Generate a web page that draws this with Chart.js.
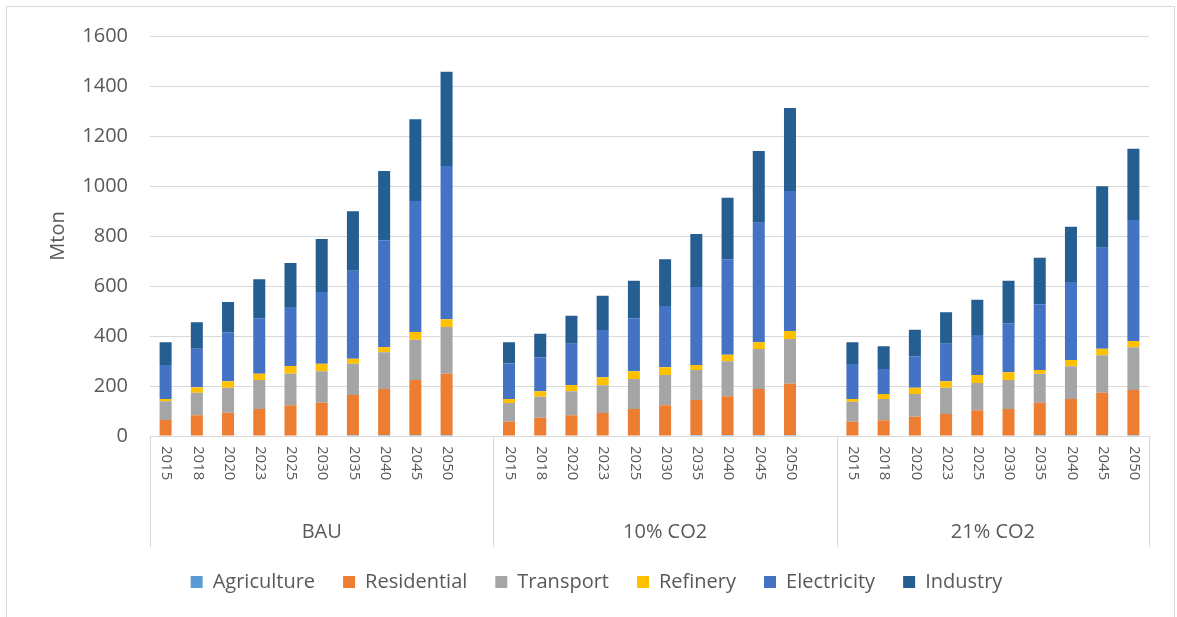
<!DOCTYPE html>
<html>
<head>
<meta charset="utf-8">
<script src="https://cdn.jsdelivr.net/npm/chart.js@4.4.1/dist/chart.umd.min.js"></script>
<style>
  html, body { margin: 0; padding: 0; background: #ffffff; }
  #wrap { position: relative; width: 1177px; height: 617px; overflow: hidden; }
  #frame { position: absolute; left: 6px; top: 6px; width: 1169px; height: 640px; border: 1px solid #d9d9d9; box-sizing: border-box; }
  #c { position: absolute; left: 0; top: 0; }
</style>
</head>
<body>
<div id="wrap">
  <div id="frame"></div>
  <canvas id="c" width="1177" height="617"></canvas>
</div>
<script>
// ---- data ----
const years = ['2015','2018','2020','2023','2025','2030','2035','2040','2045','2050'];
const groups = ['BAU', '10% CO2', '21% CO2'];
const seriesNames = ['Agriculture','Residential','Transport','Refinery','Electricity','Industry'];
const seriesColors = ['#5B9BD5','#ED7D31','#A5A5A5','#FFC000','#4472C4','#255E91'];

const agriBAU  = [0,0,0,0,0,0,4,4,4,4];
const resBAU   = [64,83,93,108,123,133,160,184,220,245];
const transBAU = [75,90,100,116,126,126,125,147,161,187];
const refBAU   = [9,22,26,25,31,30,20,21,31,31];
const elecBAU  = [136,154,196,222,236,287,352,427,524,613];
const indBAU   = [91,106,121,156,176,212,238,277,327,377];

const agri10  = [0,0,0,0,0,0,4,4,4,4];
const res10   = [57,73,83,92,108,123,140,155,184,205];
const trans10 = [75,84,96,111,120,121,120,140,160,179];
const ref10   = [16,22,25,32,31,31,20,26,27,32];
const elec10  = [142,136,165,189,212,245,312,382,478,560];
const ind10   = [85,94,112,137,150,187,212,246,287,332];

const agri21  = [0,0,0,0,0,0,4,4,4,4];
const res21   = [57,63,77,88,103,108,129,144,169,180];
const trans21 = [80,85,91,105,109,116,116,131,150,171];
const ref21   = [11,20,25,26,32,31,15,25,26,25];
const elec21  = [140,100,126,150,160,196,263,312,404,484];
const ind21   = [87,91,106,126,141,170,186,221,246,285];

const yTicks = [0,200,400,600,800,1000,1200,1400,1600];

// ---- build category axis: one empty slot closes each group except the last ----
const labels = [];
const groupStart = [];
const groupEnd = [];
groups.forEach((g, gi) => {
  groupStart.push(labels.length);
  years.forEach(y => labels.push(y));
  if (gi < groups.length - 1) labels.push('');
  groupEnd.push(labels.length);
});
function join(a, b, c) { return [...a, null, ...b, null, ...c]; }
const seriesData = [
  join(agriBAU, agri10, agri21),
  join(resBAU, res10, res21),
  join(transBAU, trans10, trans21),
  join(refBAU, ref10, ref21),
  join(elecBAU, elec10, elec21),
  join(indBAU, ind10, ind21)
];

const TEXT = '#595959';
const GRID = '#d9d9d9';
const FONT = '"Open Sans", "DejaVu Sans", sans-serif';

const groupPlugin = {
  id: 'groupLabels',
  afterDraw(chart) {
    const { ctx, scales: { x }, chartArea } = chart;
    const half = (x.getPixelForValue(1) - x.getPixelForValue(0)) / 2;
    const edge = b => (b < labels.length ? x.getPixelForValue(b) - half : x.getPixelForValue(labels.length - 1) + half);
    ctx.save();
    // rotated year labels (reading top to bottom)
    ctx.fillStyle = TEXT;
    ctx.font = '15px ' + FONT;
    ctx.textAlign = 'left';
    ctx.textBaseline = 'middle';
    labels.forEach((lab, i) => {
      if (!lab) return;
      const px = x.getPixelForValue(i);
      ctx.save();
      ctx.translate(px + 1, chartArea.bottom + 10);
      ctx.rotate(Math.PI / 2);
      ctx.fillText(lab, 0, 0);
      ctx.restore();
    });
    // separators
    ctx.strokeStyle = GRID;
    ctx.lineWidth = 1;
    const bounds = [...groupStart, labels.length];
    bounds.forEach(b => {
      const px = Math.round(edge(b)) + 0.5;
      ctx.beginPath();
      ctx.moveTo(px, chartArea.bottom);
      ctx.lineTo(px, chartArea.bottom + 111);
      ctx.stroke();
    });
    // group labels
    ctx.font = '20px ' + FONT;
    ctx.textAlign = 'center';
    groups.forEach((g, gi) => {
      const a = edge(groupStart[gi]);
      const b = edge(groupEnd[gi]);
      ctx.fillText(g, (a + b) / 2, chartArea.bottom + 96);
    });
    ctx.restore();
  }
};

new Chart(document.getElementById('c'), {
  type: 'bar',
  data: {
    labels: labels,
    datasets: seriesNames.map((n, i) => ({
      label: n,
      data: seriesData[i],
      backgroundColor: seriesColors[i],
      borderWidth: 0,
      categoryPercentage: 1.0,
      barPercentage: 0.385
    }))
  },
  options: {
    responsive: false,
    animation: false,
    layout: { padding: { left: 44, top: 36, right: 28, bottom: 15 } },
    plugins: {
      legend: {
        position: 'bottom',
        labels: {
          boxWidth: 12, boxHeight: 12, padding: 28,
          color: TEXT,
          font: { family: FONT, size: 20 }
        }
      },
      tooltip: { enabled: false }
    },
    scales: {
      x: {
        stacked: true,
        grid: { display: false },
        border: { display: true, color: GRID, width: 1 },
        ticks: { display: false },
        afterFit(scale) { scale.height = 108; }
      },
      y: {
        stacked: true,
        min: 0, max: yTicks[yTicks.length - 1],
        afterBuildTicks(scale) { scale.ticks = yTicks.map(v => ({ value: v })); },
        grid: { color: GRID, lineWidth: 1, drawTicks: false },
        border: { display: false },
        ticks: { color: TEXT, padding: 22, font: { family: FONT, size: 20 }, callback: v => String(v) },
        title: { display: true, text: 'Mton', color: TEXT, font: { family: FONT, size: 20 }, padding: { top: 2, bottom: 0 } },
        afterFit(scale) { scale.width = 106; }
      }
    }
  },
  plugins: [groupPlugin]
});
</script>
</body>
</html>
